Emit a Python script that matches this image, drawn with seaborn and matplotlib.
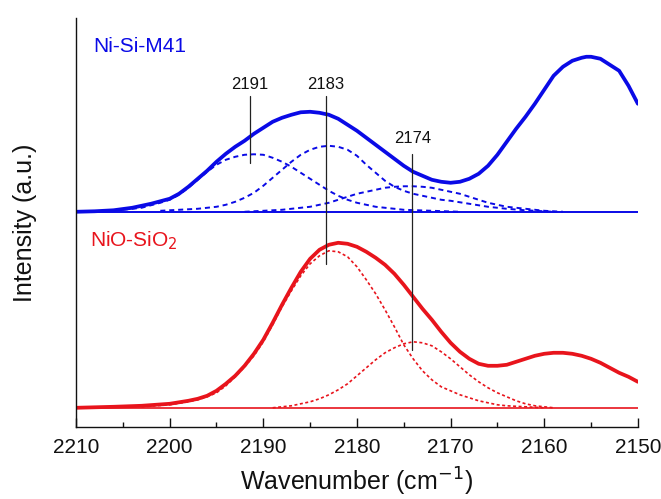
import numpy as np
import pandas as pd
import matplotlib
matplotlib.use("Agg")
import matplotlib.pyplot as plt
import seaborn as sns

sns.set_theme(style="white")
plt.rcParams['font.family'] = ['Liberation Sans', 'DejaVu Sans']

# ---- data (heights above each trace's own baseline, arbitrary units) ----
blue_total_x = [2210, 2208, 2206, 2204, 2202, 2200, 2199, 2198, 2197, 2196, 2195, 2194, 2193, 2192, 2191,
                2190, 2189, 2188, 2187, 2186, 2185, 2184, 2183, 2182, 2181, 2180, 2179, 2178, 2177,
                2176, 2175, 2174, 2173, 2172, 2171, 2170, 2169, 2168, 2167, 2166, 2165, 2164, 2163,
                2162, 2161, 2160, 2159, 2158, 2157, 2156, 2155.5, 2155, 2154, 2153, 2152, 2151, 2150]
blue_total_y = [0, 0.5, 1.5, 4, 8, 13, 18, 25, 33, 41, 50, 58, 65, 71, 78,
                84, 90, 94, 97, 99.5, 100, 99, 97, 93, 87, 81, 74, 67, 60,
                53, 46, 40, 36, 32, 30, 29, 30, 33, 38, 46, 57, 70, 83,
                95, 108, 122, 136, 145, 151, 154, 155, 155, 153, 147, 141, 126, 108]

blue_c2191_x = [2205, 2203, 2201, 2200, 2199, 2198, 2197, 2196, 2195, 2194, 2193, 2192, 2191, 2190, 2189,
                2188, 2187, 2186, 2185, 2184, 2183, 2182, 2181, 2180, 2179, 2178, 2177, 2175, 2172, 2169]
blue_c2191_y = [2, 4, 9, 12, 17, 24, 32, 40, 47, 52, 55, 57, 57.5, 57, 54,
                50, 45, 39, 33, 27, 21, 16, 12, 9, 7, 5, 4, 2, 1, 0]

blue_c2183_x = [2201, 2199, 2197, 2196, 2195, 2194, 2193, 2192, 2191, 2190, 2189, 2188, 2187, 2186, 2185,
                2184, 2183, 2182, 2181, 2180, 2179, 2178, 2177, 2176, 2175, 2174, 2173, 2172, 2171, 2170,
                2168, 2166, 2164, 2162, 2160, 2159]
blue_c2183_y = [1, 2, 3, 4, 5, 7, 10, 14, 19, 26, 34, 42, 50, 57, 62,
                65, 66, 65, 62, 56, 47, 39, 31, 25, 21, 18, 16, 14, 12, 11,
                8, 5, 3, 1.5, 0.5, 0]

blue_c2174_x = [2192, 2190, 2188, 2186, 2185, 2184, 2183, 2182, 2181, 2180, 2179, 2178, 2177, 2176, 2175,
                2174, 2173, 2172, 2171, 2170, 2169, 2168, 2167, 2166, 2165, 2164, 2163, 2162, 2160, 2158]
blue_c2174_y = [0, 1, 2, 4, 5, 7, 9, 12, 15, 18, 20, 22, 24, 25, 25.5,
                25.5, 25, 24, 22, 20, 18, 15, 12, 9, 7, 5, 4, 3, 1, 0]

red_total_x = [2210, 2206, 2203, 2200, 2198, 2197, 2196, 2195, 2194, 2193, 2192, 2191, 2190, 2189, 2188,
               2187, 2186, 2185, 2184, 2183, 2182, 2181, 2180, 2179, 2178, 2177, 2176, 2175, 2174, 2173,
               2172, 2171, 2170, 2169, 2168, 2167, 2166, 2165, 2164, 2163, 2162, 2161, 2160, 2159, 2158,
               2157, 2156, 2155, 2154, 2153, 2152, 2151, 2150]
red_total_y = [0, 1, 2, 4, 7, 9, 12, 17, 24, 32, 42, 54, 68, 85, 103,
               120, 136, 149, 158, 163, 165, 164, 161, 156, 150, 143, 134, 123, 111, 99,
               88, 76, 65, 56, 49, 44, 42, 42, 43, 46, 49, 52, 54, 55, 55,
               54, 52, 49, 45, 40, 35, 31, 26]

red_c2183_x = [2203, 2200, 2198, 2197, 2196, 2195, 2194, 2193, 2192, 2191, 2190, 2189, 2188, 2187, 2186,
               2185, 2184, 2183, 2182, 2181, 2180, 2179, 2178, 2177, 2176, 2175, 2174, 2173, 2172, 2171,
               2170, 2169, 2168, 2167, 2166, 2165, 2164, 2162, 2160]
red_c2183_y = [1, 3, 6, 8, 11, 15, 22, 31, 41, 52, 66, 83, 101, 117, 132,
               144, 152, 157, 156, 151, 141, 128, 114, 98, 81, 63, 49, 37, 28, 21,
               17, 13, 10, 7, 5, 3, 2, 1, 0]

red_c2174_x = [2189, 2188, 2187, 2186, 2185, 2184, 2183, 2182, 2181, 2180, 2179, 2178, 2177, 2176, 2175,
               2174, 2173, 2172, 2171, 2170, 2169, 2168, 2167, 2166, 2165, 2164, 2163, 2162, 2161, 2160, 2159]
red_c2174_y = [0, 1, 2, 4, 6, 9, 13, 18, 24, 32, 40, 48, 55, 60, 64,
               66, 65, 62, 56, 49, 41, 33, 26, 20, 15, 11, 7, 4, 2, 1, 0]

blue_offset = 215.5
red_offset = 19.5

peak_labels = ["2191", "2183", "2174"]
peak_pos = [2191.4, 2183.3, 2174.1]

xticks = [2210, 2200, 2190, 2180, 2170, 2160, 2150]
minor_ticks = [2205, 2195, 2185, 2175, 2165, 2155]

BLUE = "#0a0ae6"
RED = "#e8141c"
INK = "#111111"

fig = plt.figure(figsize=(6.61, 4.99), dpi=100)
ax = fig.add_axes([0.115, 0.1437, 0.850, 0.8203])


def draw(xs, ys, off, color, lw, ls):
    df = pd.DataFrame({"x": xs, "y": np.asarray(ys, dtype=float) + off})
    sns.lineplot(data=df, x="x", y="y", ax=ax, color=color, lw=lw, linestyle=ls,
                 sort=False, estimator=None, legend=False)

blue_dash = (0, (2.6, 2.0))
red_dash = (0, (1.8, 1.5))
# baselines
ax.axhline(blue_offset, color=BLUE, lw=1.4, zorder=1)
ax.axhline(red_offset, color=RED, lw=1.2, zorder=1)

draw(blue_c2191_x, blue_c2191_y, blue_offset, BLUE, 1.4, blue_dash)
draw(blue_c2183_x, blue_c2183_y, blue_offset, BLUE, 1.4, blue_dash)
draw(blue_c2174_x, blue_c2174_y, blue_offset, BLUE, 1.4, blue_dash)
draw(blue_total_x, blue_total_y, blue_offset, BLUE, 2.7, "-")

draw(red_c2183_x, red_c2183_y, red_offset, RED, 1.2, red_dash)
draw(red_c2174_x, red_c2174_y, red_offset, RED, 1.2, red_dash)
draw(red_total_x, red_total_y, red_offset, RED, 2.7, "-")

# peak marker lines and labels
line_spans = [(264.7, 331.3), (163.7, 331.0), (77.3, 273.0)]
label_y = [338.7, 338.7, 284.7]
for lab, p, (y0, y1), ly in zip(peak_labels, peak_pos, line_spans, label_y):
    ax.plot([p, p], [y0, y1], color="#222222", lw=0.9)
    ax.text(p, ly, lab, ha="center", va="baseline", fontsize=12, color=INK)

ax.text(2208.2, 375, "Ni-Si-M41", color=BLUE, fontsize=15, ha="left", va="baseline")
ax.text(2208.5, 181, "NiO-SiO$_2$", color=RED, fontsize=15, ha="left", va="baseline")

ax.set_xlim(2210, 2150)
ax.set_ylim(0, 409.3)
ax.set_xticks(xticks)
ax.set_xticks(minor_ticks, minor=True)
ax.set_yticks([])
ax.tick_params(axis="x", which="major", direction="in", length=6.5, width=1, labelsize=15,
               pad=8, bottom=True, colors=INK)
ax.tick_params(axis="x", which="minor", direction="in", length=3.5, width=1, bottom=True, colors=INK)
for s in ["top", "right"]:
    ax.spines[s].set_visible(False)
for s in ["left", "bottom"]:
    ax.spines[s].set_color(INK)
    ax.spines[s].set_linewidth(1.0)
ax.set_xlabel("Wavenumber (cm$^{-1}$)", fontsize=18, color=INK, labelpad=6)
ax.set_ylabel("Intensity (a.u.)", fontsize=18, color=INK, labelpad=28)

fig.savefig("out.png", dpi=100)
